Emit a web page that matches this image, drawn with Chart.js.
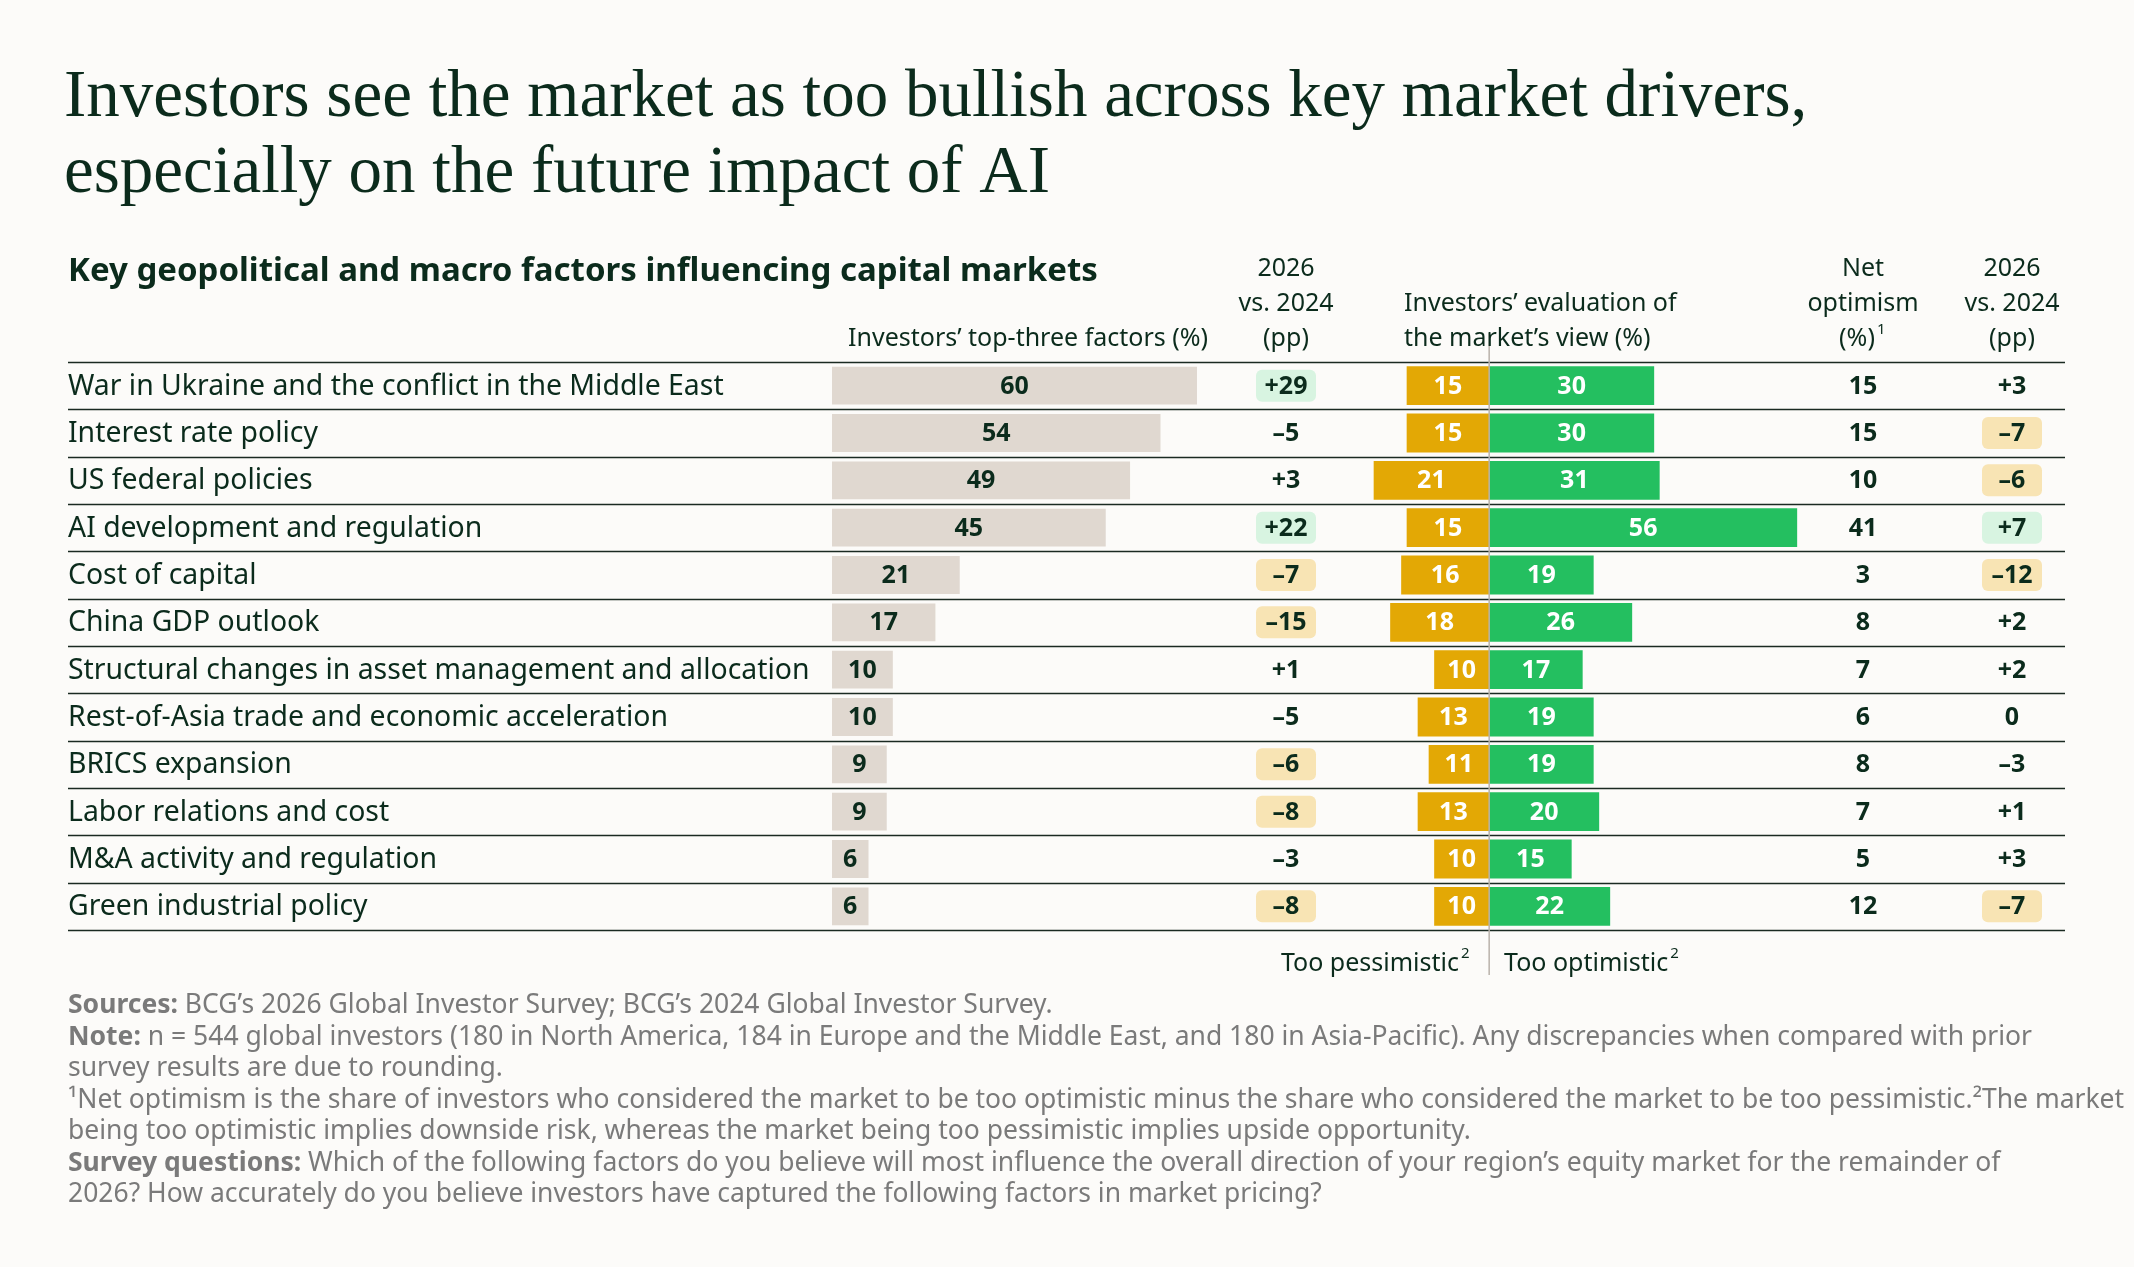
<!DOCTYPE html>
<html><head><meta charset="utf-8">
<script src="https://cdn.jsdelivr.net/npm/chart.js@4"></script>
<style>html,body{margin:0;padding:0;background:#fcfbf9;}canvas{display:block}</style>
</head><body>
<div style="width:2134px;height:1267px"><canvas id="c"></canvas></div>
<script>
const categories=["War in Ukraine and the conflict in the Middle East","Interest rate policy","US federal policies","AI development and regulation","Cost of capital","China GDP outlook","Structural changes in asset management and allocation","Rest-of-Asia trade and economic acceleration","BRICS expansion","Labor relations and cost","M&A activity and regulation","Green industrial policy"];
const topThree=[60,54,49,45,21,17,10,10,9,9,6,6];
const topThreeChange=[29,-5,3,22,-7,-15,1,-5,-6,-8,-3,-8];
const tooPessimistic=[15,15,21,15,16,18,10,13,11,13,10,10];
const tooOptimistic=[30,30,31,56,19,26,17,19,19,20,15,22];
const netOptimism=[15,15,10,41,3,8,7,6,8,7,5,12];
const netChange=[3,-7,-6,7,-12,2,2,0,-3,1,3,-7];
const changeHighlight=[1,0,0,1,1,1,0,0,1,1,0,1];
const netHighlight=[0,1,1,1,1,0,0,0,0,0,0,1];

const DARK='#0b2b1c',GRAY='#7a7a7a';
const fmt=v=>v>0?'+'+v:(v<0?'\u2013'+(-v):'0');
const SANS='"Noto Sans", sans-serif';

const overlay={id:'overlay',
 beforeDatasetsDraw(ch){const c=ch.ctx,a=ch.chartArea,y=ch.scales.y;
  c.save();
  c.strokeStyle='#1a2a22';c.lineWidth=1.5;
  for(let i=0;i<=categories.length;i++){const yy=i===0?a.top:(i===categories.length?a.bottom:(y.getPixelForValue(i-1)+y.getPixelForValue(i))/2);
   c.beginPath();c.moveTo(a.left,Math.round(yy)+0.5);c.lineTo(a.right,Math.round(yy)+0.5);c.stroke();}
  c.restore();},
 afterDatasetsDraw(ch){const c=ch.ctx,y=ch.scales.y,x1=ch.scales.x1,x2=ch.scales.x2;
  c.save();
  const z=x2.getPixelForValue(0);
  c.strokeStyle='#b9b2aa';c.lineWidth=1.5;c.beginPath();c.moveTo(z,333);c.lineTo(z,975);c.stroke();
  c.fillStyle=DARK;c.textBaseline='alphabetic';c.textAlign='left';
  c.font='67px "Liberation Serif", serif';
  c.fillText('Investors see the market as too bullish across key market drivers,',64,116);
  c.fillText('especially on the future impact of AI',64,192);
  c.font='bold 33px '+SANS;c.fillText('Key geopolitical and macro factors influencing capital markets',68,281);
  c.font='25px '+SANS;
  c.textAlign='right';c.fillText('Investors\u2019 top-three factors (%)',1208,346);
  c.textAlign='center';
  ['2026','vs. 2024','(pp)'].forEach((t,i)=>{c.fillText(t,1286,276+i*35);c.fillText(t,2012,276+i*35);});
  c.fillText('Net',1863,276);c.fillText('optimism',1863,311);c.fillText('(%)',1857,346);
  const sup=(x,t)=>{c.save();c.font='15px '+SANS;c.textAlign='left';c.fillText(t,x,334);c.restore();};
  sup(1857+c.measureText('(%)').width/2+2,'1');
  c.textAlign='left';c.fillText('Investors\u2019 evaluation of',1404,311);c.fillText('the market\u2019s view (%)',1404,346);
  const sup2=(x,t,yb)=>{c.save();c.font='15px '+SANS;c.textAlign='left';c.fillText(t,x,yb);c.restore();};
  c.textAlign='right';c.fillText('Too pessimistic',1459,971);sup2(1461,'2',958);
  c.textAlign='left';c.fillText('Too optimistic',1504,971);sup2(1504+c.measureText('Too optimistic').width+2,'2',958);
  categories.forEach((cat,i)=>{const yy=y.getPixelForValue(i);
   c.textBaseline='middle';c.fillStyle=DARK;c.textAlign='left';c.font='28.4px '+SANS;c.fillText(cat,68,yy+1);
   c.font='bold 25px '+SANS;c.textAlign='center';
   c.fillText(topThree[i],(x1.getPixelForValue(0)+x1.getPixelForValue(topThree[i]))/2,yy+1);
   c.fillStyle='#fff';
   c.fillText(tooPessimistic[i],(z+x2.getPixelForValue(-tooPessimistic[i]))/2,yy+1);
   c.fillText(tooOptimistic[i],(z+x2.getPixelForValue(tooOptimistic[i]))/2,yy+1);
   c.fillStyle=DARK;c.fillText(netOptimism[i],1863,yy+1);
   const badge=(cx,v,h)=>{if(h){c.fillStyle=v>0?'#d8f4e1':'#f8e4b4';c.beginPath();c.roundRect(cx-30,yy-16,60,32,6);c.fill();}
     c.fillStyle=DARK;c.fillText(fmt(v),cx,yy+1);};
   badge(1286,topThreeChange[i],changeHighlight[i]);
   badge(2012,netChange[i],netHighlight[i]);
  });
  c.textBaseline='alphabetic';c.textAlign='left';c.fillStyle=GRAY;
  const lines=[[['Sources: ',1],['BCG\u2019s 2026 Global Investor Survey; BCG\u2019s 2024 Global Investor Survey.',0]],
   [['Note: ',1],['n = 544 global investors (180 in North America, 184 in Europe and the Middle East, and 180 in Asia-Pacific). Any discrepancies when compared with prior',0]],
   [['survey results are due to rounding.',0]],
   [['\u00B9Net optimism is the share of investors who considered the market to be too optimistic minus the share who considered the market to be too pessimistic.\u00B2The market',0]],
   [['being too optimistic implies downside risk, whereas the market being too pessimistic implies upside opportunity.',0]],
   [['Survey questions: ',1],['Which of the following factors do you believe will most influence the overall direction of your region\u2019s equity market for the remainder of',0]],
   [['2026? How accurately do you believe investors have captured the following factors in market pricing?',0]]];
  lines.forEach((ln,i)=>{let x=68;ln.forEach(([t,b])=>{c.font=(b?'bold ':'')+'26.5px '+SANS;c.fillText(t,x,1013+i*31.5);x+=c.measureText(t).width;});});
  c.restore();}
};

new Chart(document.getElementById('c'),{type:'bar',
 data:{labels:categories,datasets:[
  {data:topThree,xAxisID:'x1',backgroundColor:'#e0d8d0',grouped:false,barPercentage:0.8,categoryPercentage:1},
  {data:tooPessimistic.map(v=>-v),xAxisID:'x2',backgroundColor:'#e3a805',grouped:false,barPercentage:0.82,categoryPercentage:1},
  {data:tooOptimistic,xAxisID:'x2',backgroundColor:'#24bf60',grouped:false,barPercentage:0.82,categoryPercentage:1}]},
 options:{indexAxis:'y',responsive:true,maintainAspectRatio:false,animation:false,devicePixelRatio:1,
  layout:{padding:{top:362,bottom:337,left:68,right:69}},
  plugins:{legend:{display:false},tooltip:{enabled:false}},
  scales:{y:{display:false},
   x1:{display:false,min:-125.6,max:202.7},
   x2:{display:false,min:-258.4,max:104.7}}},
 plugins:[overlay]});
</script></body></html>
